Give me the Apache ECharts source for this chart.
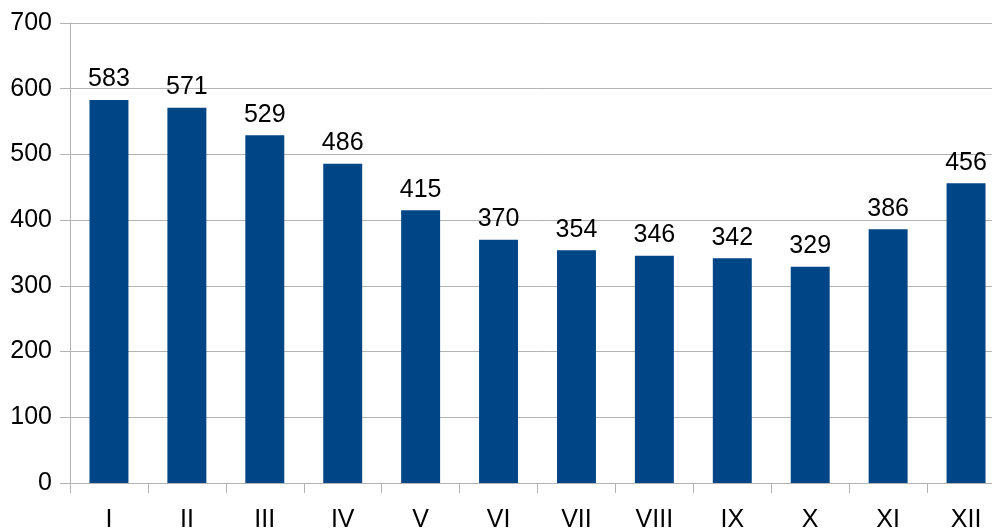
<!DOCTYPE html>
<html>
<head>
<meta charset="utf-8">
<script src="https://cdn.jsdelivr.net/npm/echarts@6/dist/echarts.min.js"></script>
<style>
  html, body { margin: 0; padding: 0; background: #fff; overflow: hidden; }
  #chart { width: 1010px; height: 531px; }
</style>
</head>
<body>
<div id="chart"></div>
<script>
// Месяцы (римские цифры) и значения столбцов
const months = ["I", "II", "III", "IV", "V", "VI", "VII", "VIII", "IX", "X", "XI", "XII"];
const values = [583, 571, 529, 486, 415, 370, 354, 346, 342, 329, 386, 456];
const yTicks = [0, 100, 200, 300, 400, 500, 600, 700];

const axisGray = "#b3b3b3";
const font = "'Liberation Sans', Arial, sans-serif";

const chart = echarts.init(document.getElementById("chart"));

// Последний столбец в оригинале обрезан правым краем, поэтому область шире окна;
// подписи оси X тоже частично уходят за нижний край
const option = {
    animation: false,
    grid: { left: 70, width: 935, top: 23, bottom: 48, containLabel: false, outerBoundsMode: "none" },
    xAxis: {
        type: "category",
        data: months,
        axisLine: { lineStyle: { color: axisGray, width: 1 } },
        axisTick: { show: true, length: 10, lineStyle: { color: axisGray } },
        axisLabel: { color: "#000", fontSize: 25, fontFamily: font, margin: 25 }
    },
    yAxis: {
        type: "value",
        min: yTicks[0],
        max: yTicks[yTicks.length - 1],
        interval: 100,
        axisLine: { show: true, lineStyle: { color: axisGray, width: 1 } },
        axisTick: { show: true, length: 10, lineStyle: { color: axisGray } },
        splitLine: { lineStyle: { color: axisGray, width: 1 } },
        axisLabel: { color: "#000", fontSize: 25, fontFamily: font, margin: 18 }
    },
    series: [{
        type: "bar",
        data: values,
        barWidth: "50%",
        itemStyle: { color: "#004586" },
        label: {
            show: true,
            position: "top",
            distance: 8,
            color: "#000",
            fontSize: 25,
            fontFamily: font
        }
    }]
};

chart.setOption(option);
</script>
</body>
</html>
